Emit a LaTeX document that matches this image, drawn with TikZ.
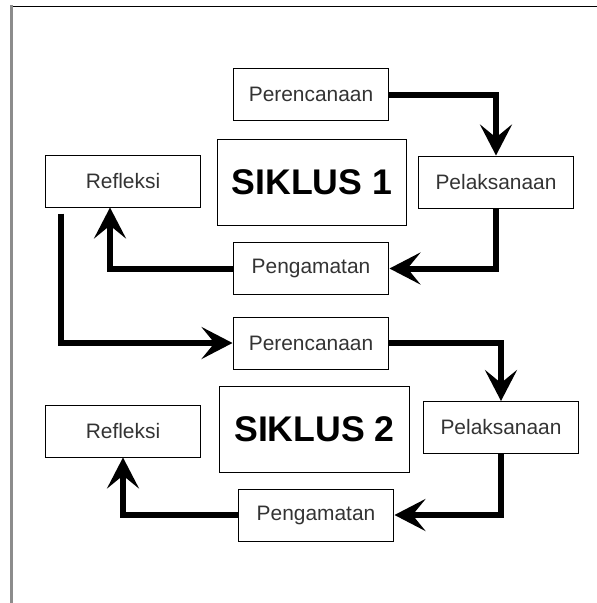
\documentclass[tikz,border=0pt]{standalone}
\usepackage{fontspec}
\setmainfont{Liberation Sans}
\usetikzlibrary{arrows.meta}

\begin{document}
\begin{tikzpicture}[
          x=0.02cm, y=-0.02cm,
          stage/.style={rectangle, draw, line width=0.02cm, minimum width=3.12cm, minimum height=1.04cm, inner sep=0pt, text=black!80, font=\fontsize{11.9}{13}\selectfont},
          cycle/.style={rectangle, draw, line width=0.02cm, minimum width=3.8cm, minimum height=1.74cm, inner sep=0pt, font=\fontsize{20.3}{22}\selectfont\bfseries},
          flow/.style={-{Stealth[length=0.62cm, width=0.64cm, inset=0.26cm]}, line width=0.12cm}
        ]
          \useasboundingbox (0,0) rectangle (597,603);

          % Frame
          \draw[gray!90, line width=0.06cm] (11.5,5) -- (11.5,603);
          \draw[black, line width=0.02cm] (13,6.5) -- (597,6.5);

          % Siklus 1
          \node[stage] (per1) at (311,94.5) {Perencanaan};
          \node[cycle] (sik1) at (312,182.5) {SIKLUS 1};
          \node[stage] (ref1) at (123,181) {Refleksi};
          \node[stage] (pel1) at (496,182) {Pelaksanaan};
          \node[stage] (peng1) at (311,268.5) {Pengamatan};

          % Siklus 2
          \node[stage] (per2) at (311,343) {Perencanaan};
          \node[cycle, minimum width=3.82cm] (sik2) at (314.5,429.5) {SIKLUS 2};
          \node[stage] (ref2) at (123,431) {Refleksi};
          \node[stage] (pel2) at (501,427.5) {Pelaksanaan};
          \node[stage] (peng2) at (316,515) {Pengamatan};

          % Arrows
          \draw[flow] (per1.east) -| (pel1.north);
          \draw[flow] (pel1.south) |- (peng1.east);
          \draw[flow] (peng1.west) -| ([xshift=-0.26cm]ref1.south);
          \draw[flow] ([xshift=-1.24cm, yshift=-0.12cm]ref1.south) |- (per2.west);

          \draw[flow] (per2.east) -| (pel2.north);
          \draw[flow] (pel2.south) |- (peng2.east);
          \draw[flow] (peng2.west) -| (ref2.south);
        \end{tikzpicture}
\end{document}
